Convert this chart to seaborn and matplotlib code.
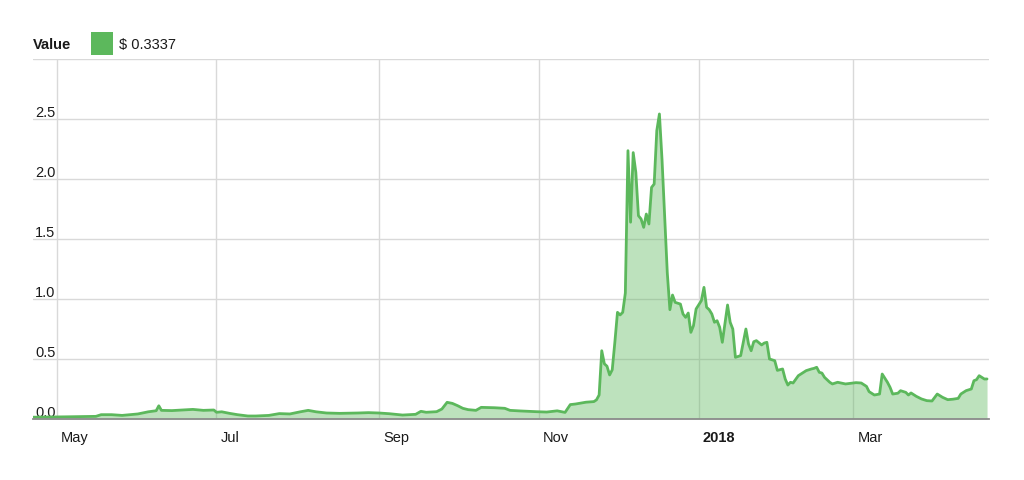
import matplotlib
matplotlib.use("Agg")
import matplotlib.pyplot as plt
import matplotlib.transforms as mtrans
from matplotlib.patches import Rectangle
import seaborn as sns
import pandas as pd

# ---- data ----
dates = [
    "2017-04-22", "2017-05-04", "2017-05-16", "2017-05-18", "2017-05-22", "2017-05-26",
    "2017-06-01", "2017-06-05", "2017-06-08", "2017-06-09", "2017-06-10", "2017-06-14",
    "2017-06-18", "2017-06-22", "2017-06-26", "2017-06-30", "2017-07-01", "2017-07-03",
    "2017-07-06", "2017-07-09", "2017-07-13", "2017-07-16", "2017-07-21", "2017-07-25",
    "2017-07-29", "2017-08-02", "2017-08-05", "2017-08-08", "2017-08-12", "2017-08-17",
    "2017-08-24", "2017-08-28", "2017-09-01", "2017-09-05", "2017-09-10", "2017-09-15",
    "2017-09-17", "2017-09-19", "2017-09-23", "2017-09-25", "2017-09-27", "2017-09-29",
    "2017-10-01", "2017-10-03", "2017-10-05", "2017-10-08", "2017-10-10", "2017-10-15",
    "2017-10-19", "2017-10-21", "2017-10-25", "2017-10-31", "2017-11-04", "2017-11-08",
    "2017-11-11", "2017-11-13", "2017-11-15", "2017-11-19", "2017-11-22", "2017-11-23",
    "2017-11-24", "2017-11-25", "2017-11-26", "2017-11-27", "2017-11-28", "2017-11-29",
    "2017-11-30", "2017-12-01", "2017-12-02", "2017-12-03", "2017-12-04", "2017-12-05",
    "2017-12-06", "2017-12-07", "2017-12-08", "2017-12-09", "2017-12-10", "2017-12-11",
    "2017-12-12", "2017-12-13", "2017-12-14", "2017-12-15", "2017-12-16", "2017-12-17",
    "2017-12-18", "2017-12-19", "2017-12-20", "2017-12-21", "2017-12-22", "2017-12-23",
    "2017-12-25", "2017-12-26", "2017-12-27", "2017-12-28", "2017-12-29", "2017-12-30",
    "2017-12-31", "2018-01-02", "2018-01-03", "2018-01-04", "2018-01-05", "2018-01-06",
    "2018-01-07", "2018-01-08", "2018-01-09", "2018-01-10", "2018-01-11", "2018-01-12",
    "2018-01-13", "2018-01-14", "2018-01-15", "2018-01-17", "2018-01-18", "2018-01-19",
    "2018-01-20", "2018-01-21", "2018-01-22", "2018-01-23", "2018-01-25", "2018-01-26",
    "2018-01-27", "2018-01-28", "2018-01-30", "2018-01-31", "2018-02-02", "2018-02-03",
    "2018-02-04", "2018-02-05", "2018-02-06", "2018-02-08", "2018-02-10", "2018-02-11",
    "2018-02-13", "2018-02-14", "2018-02-15", "2018-02-16", "2018-02-17", "2018-02-18",
    "2018-02-20", "2018-02-21", "2018-02-23", "2018-02-26", "2018-03-02", "2018-03-04",
    "2018-03-06", "2018-03-07", "2018-03-09", "2018-03-11", "2018-03-12", "2018-03-14",
    "2018-03-15", "2018-03-16", "2018-03-18", "2018-03-19", "2018-03-21", "2018-03-22",
    "2018-03-23", "2018-03-25", "2018-03-27", "2018-03-29", "2018-03-31", "2018-04-02",
    "2018-04-04", "2018-04-06", "2018-04-08", "2018-04-10", "2018-04-11", "2018-04-13",
    "2018-04-15", "2018-04-16", "2018-04-17", "2018-04-18", "2018-04-20", "2018-04-21",
]
values = [
    0.015, 0.018, 0.022, 0.036, 0.036, 0.030,
    0.042, 0.060, 0.069, 0.110, 0.072, 0.070,
    0.075, 0.080, 0.072, 0.075, 0.056, 0.060,
    0.047, 0.036, 0.025, 0.025, 0.030, 0.045,
    0.042, 0.060, 0.072, 0.060, 0.050, 0.047,
    0.050, 0.053, 0.050, 0.044, 0.033, 0.039,
    0.064, 0.056, 0.061, 0.083, 0.139, 0.130,
    0.111, 0.089, 0.078, 0.072, 0.097, 0.094,
    0.089, 0.072, 0.067, 0.061, 0.058, 0.068,
    0.055, 0.120, 0.125, 0.140, 0.145, 0.160,
    0.200, 0.569, 0.460, 0.440, 0.367, 0.410,
    0.640, 0.889, 0.867, 0.889, 1.050, 2.236,
    1.640, 2.220, 2.056, 1.694, 1.667, 1.597,
    1.708, 1.625, 1.930, 1.958, 2.403, 2.542,
    2.160, 1.690, 1.220, 0.911, 1.033, 0.972,
    0.958, 0.875, 0.847, 0.883, 0.722, 0.778,
    0.917, 0.986, 1.097, 0.931, 0.911, 0.875,
    0.806, 0.819, 0.764, 0.639, 0.792, 0.950,
    0.806, 0.750, 0.514, 0.528, 0.639, 0.750,
    0.625, 0.569, 0.644, 0.653, 0.617, 0.633,
    0.639, 0.500, 0.486, 0.405, 0.417, 0.333,
    0.283, 0.306, 0.300, 0.361, 0.389, 0.403,
    0.417, 0.422, 0.431, 0.389, 0.383, 0.347,
    0.306, 0.292, 0.306, 0.292, 0.303, 0.300,
    0.272, 0.228, 0.200, 0.208, 0.375, 0.306,
    0.264, 0.208, 0.215, 0.236, 0.222, 0.200,
    0.217, 0.189, 0.167, 0.153, 0.150, 0.208,
    0.181, 0.161, 0.165, 0.172, 0.208, 0.236,
    0.250, 0.319, 0.328, 0.361, 0.333, 0.3337,
]
y_ticks = [0.0, 0.5, 1.0, 1.5, 2.0, 2.5, 3.0]
y_tick_labels = ["0.0", "0.5", "1.0", "1.5", "2.0", "2.5", ""]
x_tick_dates = ["2017-05-01", "2017-07-01", "2017-09-01", "2017-11-01", "2018-01-01", "2018-03-01"]
x_tick_labels = ["May", "Jul", "Sep", "Nov", "2018", "Mar"]
legend_title = "Value"
legend_value = "$ 0.3337"

LINE = "#5cb85c"
GRID = "#d9d9d9"
TEXT = "#1a1a1a"

sns.set_style("white")
plt.rcParams["font.family"] = ["Liberation Sans", "DejaVu Sans"]

df = pd.DataFrame({"date": pd.to_datetime(dates), "value": values})

fig = plt.figure(figsize=(10.24, 4.81), dpi=100)
W, H = 1024, 481
ax = fig.add_axes([33 / W, (H - 420) / H, (989 - 33) / W, 360 / H])

ax.fill_between(df["date"], df["value"], 0, color=LINE, alpha=0.4, linewidth=0, zorder=2)
sns.lineplot(data=df, x="date", y="value", ax=ax, color=LINE, linewidth=2.0, zorder=3)

ax.set_ylim(0, 3.0)
ax.set_xlim(pd.Timestamp("2017-04-22"), pd.Timestamp("2018-04-21 18:00"))
ax.set_xlabel("")
ax.set_ylabel("")

ax.set_yticks(y_ticks)
ax.set_yticklabels(y_tick_labels)
ax.set_xticks(pd.to_datetime(x_tick_dates))
ax.set_xticklabels(x_tick_labels)

ax.grid(True, color=GRID, linewidth=1.0, zorder=0)
ax.set_axisbelow(True)
for s in ["left", "right", "top"]:
    ax.spines[s].set_visible(False)
ax.spines["bottom"].set_color("#8c8c8c")
ax.spines["bottom"].set_linewidth(1.3)
ax.spines["bottom"].set_zorder(4)

ax.tick_params(axis="y", length=0, pad=-1.5, labelsize=10.5, labelcolor=TEXT)
ax.tick_params(axis="x", length=0, pad=8, labelsize=10.5, labelcolor=TEXT)
for lbl in ax.get_yticklabels():
    lbl.set_ha("left")
    lbl.set_va("bottom")
offset = mtrans.ScaledTranslation(4 / 100, 0, fig.dpi_scale_trans)
for lbl in ax.get_xticklabels():
    lbl.set_ha("left")
    lbl.set_transform(lbl.get_transform() + offset)
    if lbl.get_text() == "2018":
        lbl.set_fontweight("bold")

# legend row
fig.text(33 / W, 1 - 45 / H, legend_title, fontsize=10.5, fontweight="bold",
         va="center", ha="left", color=TEXT)
fig.add_artist(Rectangle((91 / W, 1 - 56 / H), 22 / W, 23 / H, transform=fig.transFigure,
                         facecolor=LINE, edgecolor="none"))
fig.text(119 / W, 1 - 45 / H, legend_value, fontsize=10.5, va="center", ha="left",
         color=TEXT)

fig.savefig("out.png", dpi=100)
